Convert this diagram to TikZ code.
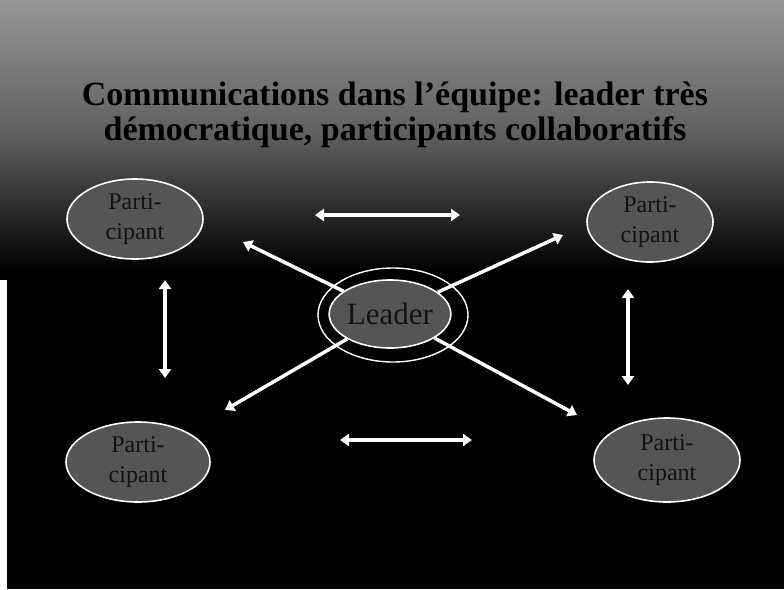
\documentclass[tikz,border=0pt]{standalone}
\usepackage{fontspec}
\setmainfont{Liberation Serif}
\usetikzlibrary{shapes.geometric,arrows.meta}
\definecolor{bgtop}{RGB}{150,150,150}
\definecolor{bgmid}{RGB}{95,95,95}
\definecolor{ellfill}{RGB}{85,85,85}
\definecolor{elltext}{RGB}{20,20,20}
\begin{document}
\begin{tikzpicture}[x=1pt,y=-1pt,
  partbox/.style={ellipse,draw=white,line width=1.6pt,fill=ellfill,inner sep=0pt,
    align=center,text=elltext,font=\fontsize{24}{30}\selectfont},
  ring/.style={ellipse,draw=white,line width=1.4pt,inner sep=0pt},
  biarrow/.style={draw=white,line width=3.5pt,{Triangle[length=9pt,width=12pt]}-{Triangle[length=9pt,width=12pt]}},
  onearrow/.style={draw=white,line width=3.5pt,-{Triangle[length=9pt,width=12pt]}},
  titletext/.style={align=center,text=black,font=\fontsize{34}{35}\selectfont\bfseries}]
\useasboundingbox (0,0) rectangle (784,589);
\shade[top color=bgtop, bottom color=black, middle color=bgmid] (0,0) rectangle (784,270);
\fill[black] (0,269) rectangle (784,589);
\fill[white] (0,280) rectangle (7,589);
% title
\node[titletext] (title) at (395,115) {Communications dans l’équipe: leader très\\démocratique, participants collaboratifs};
% participants
\node[partbox,minimum width=136pt,minimum height=80pt] (tl) at (135,219) {Parti-\\cipant};
\node[partbox,minimum width=126pt,minimum height=80pt] (tr) at (650,222) {Parti-\\cipant};
\node[partbox,minimum width=144pt,minimum height=80pt] (bl) at (138,462) {Parti-\\cipant};
\node[partbox,minimum width=146pt,minimum height=84pt] (br) at (667,460) {Parti-\\cipant};
% leader
\node[ring,minimum width=150pt,minimum height=94pt] (ring) at (393,315) {};
\node[partbox,minimum width=108pt,minimum height=68pt,font=\fontsize{31}{34}\selectfont] (leader) at (390,314) {Leader};
% arrow end points
\coordinate (th1) at (315,215); \coordinate (th2) at (460,215);
\coordinate (bh1) at (340,440); \coordinate (bh2) at (472,440);
\coordinate (lv1) at (165,280); \coordinate (lv2) at (165,378);
\coordinate (rv1) at (628,289); \coordinate (rv2) at (628,385);
\coordinate (dtl) at (243,242); \coordinate (dtr) at (563,235);
\coordinate (dbl) at (225,410); \coordinate (dbr) at (577,415);
% arrows
\draw[biarrow] (th1) -- (th2);
\draw[biarrow] (bh1) -- (bh2);
\draw[biarrow] (lv1) -- (lv2);
\draw[biarrow] (rv1) -- (rv2);
\draw[onearrow] (leader) -- (dtl);
\draw[onearrow] (leader) -- (dtr);
\draw[onearrow] (leader) -- (dbl);
\draw[onearrow] (leader) -- (dbr);
\end{tikzpicture}
\end{document}
